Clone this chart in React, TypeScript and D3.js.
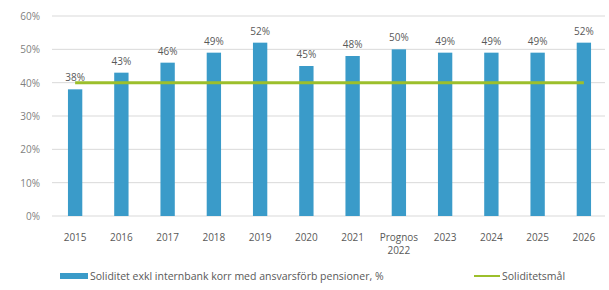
import React, { useEffect, useRef } from "react";
import * as d3 from "d3";

const categories = ["2015", "2016", "2017", "2018", "2019", "2020", "2021", "Prognos 2022", "2023", "2024", "2025", "2026"];
const soliditet = [38, 43, 46, 49, 52, 45, 48, 50, 49, 49, 49, 52];
const malValue = 40;
const yTicks = [0, 10, 20, 30, 40, 50, 60];
const seriesNames = ["Soliditet exkl internbank korr med ansvarsförb pensioner, %", "Soliditetsmål"];

const W = 609;
const H = 290;
const font = "'Open Sans', sans-serif";

export default function App() {
  const ref = useRef<SVGSVGElement>(null);

  useEffect(() => {
    const svg = d3.select(ref.current);
    svg.selectAll("*").remove();

    const x = d3.scaleBand().domain(categories).range([52, 607]).paddingInner(0.69).paddingOuter(0.345);
    const y = d3.scaleLinear().domain([0, 60]).range([216, 16]);

    // gridlines
    svg.append("g")
      .selectAll("line")
      .data(yTicks)
      .join("line")
      .attr("x1", 52)
      .attr("x2", 605)
      .attr("y1", (d) => y(d))
      .attr("y2", (d) => y(d))
      .attr("stroke", "#d9d9d9")
      .attr("stroke-width", 1);

    // y labels
    svg.append("g")
      .selectAll("text")
      .data(yTicks)
      .join("text")
      .attr("x", 40)
      .attr("y", (d) => y(d) + 4)
      .attr("text-anchor", "end")
      .attr("font-family", font)
      .attr("font-size", 10)
      .attr("fill", "#7f7f7f")
      .text((d) => d + "%");

    // bars
    svg.append("g")
      .selectAll("rect")
      .data(soliditet)
      .join("rect")
      .attr("x", (d, i) => x(categories[i])!)
      .attr("y", (d) => y(d))
      .attr("width", x.bandwidth())
      .attr("height", (d) => y(0) - y(d))
      .attr("fill", "#3a9bc9");

    // value labels
    svg.append("g")
      .selectAll("text")
      .data(soliditet)
      .join("text")
      .attr("x", (d, i) => x(categories[i])! + x.bandwidth() / 2)
      .attr("y", (d) => y(d) - 8)
      .attr("text-anchor", "middle")
      .attr("font-family", font)
      .attr("font-size", 10)
      .attr("fill", "#595959")
      .text((d) => d + "%");

    // target line
    const mal = d3.line<string>()
      .x((c) => x(c)! + x.bandwidth() / 2)
      .y(() => y(malValue));
    svg.append("path")
      .attr("d", mal(categories))
      .attr("fill", "none")
      .attr("stroke", "#9cbf2b")
      .attr("stroke-width", 3);

    // x labels
    const xl = svg.append("g")
      .selectAll("text")
      .data(categories)
      .join("text")
      .attr("x", (c) => x(c)! + x.bandwidth() / 2)
      .attr("y", 241)
      .attr("text-anchor", "middle")
      .attr("font-family", font)
      .attr("font-size", 10)
      .attr("fill", "#595959");
    xl.each(function (c) {
      const parts = c.split(" ");
      d3.select(this)
        .selectAll("tspan")
        .data(parts)
        .join("tspan")
        .attr("x", x(c)! + x.bandwidth() / 2)
        .attr("dy", (p, j) => (j === 0 ? 0 : 13))
        .text((p) => p);
    });

    // legend
    const lg = svg.append("g").attr("font-family", font).attr("font-size", 10.5).attr("fill", "#595959");
    lg.append("rect").attr("x", 60).attr("y", 273).attr("width", 28).attr("height", 6).attr("fill", "#3a9bc9");
    lg.append("text").attr("x", 90).attr("y", 280).text(seriesNames[0]);
    lg.append("line").attr("x1", 474).attr("x2", 500).attr("y1", 276).attr("y2", 276).attr("stroke", "#9cbf2b").attr("stroke-width", 2);
    lg.append("text").attr("x", 502).attr("y", 280).text(seriesNames[1]);
  }, []);

  return (
    <svg ref={ref} width={W} height={H} style={{ position: "absolute", left: 0, top: 0, background: "#fff" }} />
  );
}
